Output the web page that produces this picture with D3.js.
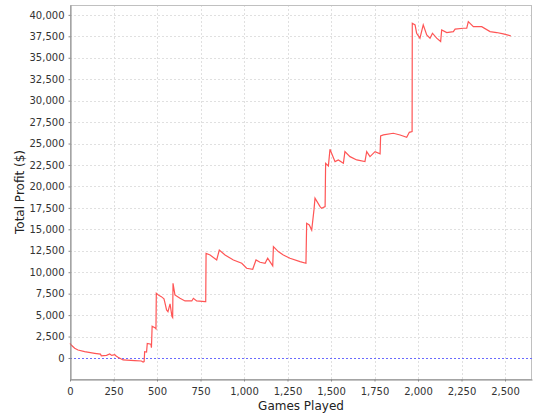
<!DOCTYPE html>
<html><head><meta charset="utf-8">
<script src="https://cdn.jsdelivr.net/npm/d3@7/dist/d3.min.js"></script>
<style>body{margin:0;background:#fff}svg{display:block}</style>
</head><body><svg id="c" width="540" height="420"></svg>
<script>
const games = [0,10,27,46,84,142,175,180,210,228,240,257,265,276,305,372,410,420,426,429,440,444,465,468,472,490,494,496,510,525,540,544,555,563,575,586,590,592,603,632,661,700,709,728,776,780,782,805,843,858,891,939,987,1015,1050,1069,1092,1121,1136,1149,1165,1169,1197,1226,1264,1322,1356,1360,1375,1389,1402,1408,1437,1446,1466,1469,1485,1494,1523,1542,1571,1580,1609,1648,1695,1705,1724,1753,1782,1785,1801,1858,1897,1935,1950,1966,1967,1983,1992,2011,2030,2050,2069,2083,2107,2130,2136,2165,2203,2213,2260,2280,2289,2318,2366,2414,2452,2490,2533];
const profit = [1700,1450,1130,930,735,548,450,250,300,470,300,400,230,80,-230,-310,-350,-470,-420,730,700,1700,1600,1200,3700,3500,3400,7540,7300,7150,6900,6570,5600,5400,6300,4820,4700,8710,7350,6960,6650,6650,6960,6650,6570,6570,12200,12010,11430,12590,12010,11430,11040,10460,10340,11430,11160,11040,11630,11230,10730,12980,12400,12010,11630,11230,11040,15700,15510,14920,17260,18620,17640,17450,17640,22700,22390,24330,22890,23090,22700,24060,23470,23090,22890,24060,23470,24060,23790,25890,26000,26200,26000,25730,26310,26390,39020,38830,37860,37280,38830,37660,37280,37860,37280,36890,38250,37940,38050,38330,38440,38440,39210,38630,38630,38050,37940,37780,37550];
const xTicks = [0,250,500,750,1000,1250,1500,1750,2000,2250,2500];
const yTicks = d3.range(0, 40001, 2500);
const xTitle = "Games Played";
const yTitle = "Total Profit ($)";

const svg = d3.select("#c");
const m = {l:70, t:5, r:8, b:41};
const W = 540, H = 420;
const x = d3.scaleLinear().domain([0, 2655]).range([m.l, W - m.r]);
const y = d3.scaleLinear().domain([-2450, 41150]).range([H - m.b, m.t]);
const fmt = d3.format(",");
const font = "DejaVu Sans, sans-serif";

// gridlines
const g = svg.append("g");
g.selectAll("line.vx").data(xTicks).join("line")
  .attr("x1", d => Math.round(x(d)) + 0.5).attr("x2", d => Math.round(x(d)) + 0.5)
  .attr("y1", m.t).attr("y2", H - m.b)
  .attr("stroke", "#e0e0e0").attr("stroke-dasharray", "2,2").attr("stroke-width", 1);
g.selectAll("line.hy").data(yTicks).join("line")
  .attr("y1", d => Math.round(y(d)) + 0.5).attr("y2", d => Math.round(y(d)) + 0.5)
  .attr("x1", m.l).attr("x2", W - m.r)
  .attr("stroke", "#e0e0e0").attr("stroke-dasharray", "2,2").attr("stroke-width", 1);

// outline
svg.append("rect").attr("x", m.l + 0.5).attr("y", m.t + 0.5)
  .attr("width", W - m.r - m.l - 1).attr("height", H - m.b - m.t)
  .attr("fill", "none").attr("stroke", "#c0c0c0");

// zero line
svg.append("line").attr("x1", m.l).attr("x2", W - m.r)
  .attr("y1", Math.round(y(0)) + 0.5).attr("y2", Math.round(y(0)) + 0.5)
  .attr("stroke", "#6a6aff").attr("stroke-dasharray", "2,2");

// series
const pts = games.map((d, i) => [d, profit[i]]);
svg.append("path").datum(pts)
  .attr("d", d3.line().x(d => x(d[0])).y(d => y(d[1])))
  .attr("fill", "none").attr("stroke", "#ff5555").attr("stroke-width", 1.2);

// axes
const xa = svg.append("g").attr("transform", `translate(0,${H - m.b + 0.5})`)
  .call(d3.axisBottom(x).tickValues(xTicks).tickFormat(fmt).tickSize(2).tickSizeOuter(0).tickPadding(6));
const ya = svg.append("g").attr("transform", `translate(${m.l + 0.5},0)`)
  .call(d3.axisLeft(y).tickValues(yTicks).tickFormat(fmt).tickSize(2).tickSizeOuter(0).tickPadding(4));
[xa, ya].forEach(a => {
  a.select(".domain").attr("stroke", "#888");
  a.selectAll(".tick line").attr("stroke", "#888");
  a.selectAll("text").attr("font-family", font).attr("font-size", 10).attr("fill", "#333");
});

svg.append("text").attr("x", (m.l + W - m.r) / 2).attr("y", 410)
  .attr("text-anchor", "middle").attr("font-family", font).attr("font-size", 12).attr("fill", "#222")
  .text(xTitle);
svg.append("text").attr("transform", `translate(24,${(m.t + H - m.b) / 2}) rotate(-90)`)
  .attr("text-anchor", "middle").attr("font-family", font).attr("font-size", 12).attr("fill", "#222")
  .text(yTitle);
</script></body></html>
